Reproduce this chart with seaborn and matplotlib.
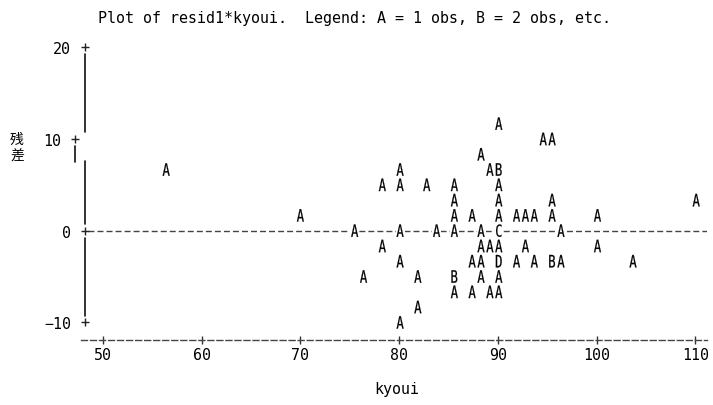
import numpy as np
import pandas as pd
import matplotlib
matplotlib.use("Agg")
import matplotlib.pyplot as plt
import seaborn as sns
from matplotlib.textpath import TextPath
from matplotlib.font_manager import FontProperties
from matplotlib.path import Path
from matplotlib.transforms import ScaledTranslation

# ---------------- data ----------------
kyoui = [
    90.1,
    94.6, 95.5,
    88.3,
    56.4, 80.1, 89.2, 90.1,
    78.3, 80.1, 82.8, 85.6, 90.1,
    85.6, 90.1, 95.5, 110.1,
    70.0, 85.6, 87.4, 90.1, 91.9, 92.8, 93.7, 95.5, 100.1,
    75.5, 80.1, 83.8, 85.6, 88.3, 90.1, 96.4,
    78.3, 88.3, 89.2, 90.1, 92.8, 100.1,
    80.1, 87.4, 88.3, 90.1, 91.9, 93.7, 95.5, 96.4, 103.7,
    76.4, 81.9, 85.6, 88.3, 90.1,
    85.6, 87.4, 89.2, 90.1,
    81.9,
    80.1,
]
resid1 = (
    [11.67]
    + [10.0] * 2
    + [8.33]
    + [6.67] * 4
    + [5.0] * 5
    + [3.33] * 4
    + [1.67] * 9
    + [0.0] * 7
    + [-1.67] * 6
    + [-3.33] * 9
    + [-5.0] * 5
    + [-6.67] * 4
    + [-8.33]
    + [-10.0]
)
nobs = (
    [1]
    + [1, 1]
    + [1]
    + [1, 1, 1, 2]
    + [1, 1, 1, 1, 1]
    + [1, 1, 1, 1]
    + [1] * 9
    + [1, 1, 1, 1, 1, 3, 1]
    + [1] * 6
    + [1, 1, 1, 4, 1, 1, 2, 1, 1]
    + [1, 1, 2, 1, 1]
    + [1, 1, 1, 1]
    + [1]
    + [1]
)
xticks = [50, 60, 70, 80, 90, 100, 110]
yticks = [-10, 0, 10, 20]
title = "Plot of resid1*kyoui.  Legend: A = 1 obs, B = 2 obs, etc."
xlabel = "kyoui"
ylabel = "残\n差"

df = pd.DataFrame({"kyoui": kyoui, "resid1": resid1, "nobs": nobs})
df["letter"] = [chr(64 + n) for n in df["nobs"]]

# ---------------- style ----------------
sns.set_style("white")
plt.rcParams["font.family"] = ["DejaVu Sans Mono"]
plt.rcParams["lines.scale_dashes"] = False
FS = 10.8
DASH = (0, (4.3, 2.2))
GREY = "#444444"

W, H = 713, 406
fig = plt.figure(figsize=(W / 100, H / 100), dpi=100)
ax_l, ax_r, ax_t, ax_b = 81, 707, 40, 340.7
ax = fig.add_axes([ax_l / W, 1 - ax_b / H, (ax_r - ax_l) / W, (ax_b - ax_t) / H])

XLIM = (47.771, 111.195)
YLIM = (-11.89, 20.9)
ax.set_xlim(*XLIM)
ax.set_ylim(*YLIM)

# glyph markers
fp = FontProperties(family="DejaVu Sans Mono")


def glyph(ch, xscale=0.72):
    tp = TextPath((0, 0), ch, size=1, prop=fp)
    v = tp.vertices.copy()
    ext = tp.get_extents()
    v[:, 0] = (v[:, 0] - (ext.x0 + ext.x1) / 2) * xscale
    v[:, 1] = v[:, 1] - (ext.y0 + ext.y1) / 2
    return Path(v, tp.codes)


letters = sorted(df["letter"].unique())
markers = {L: glyph(L) for L in letters}
box = Path([(-0.32, -0.5), (0.32, -0.5), (0.32, 0.5), (-0.32, 0.5), (-0.32, -0.5)],
           [Path.MOVETO, Path.LINETO, Path.LINETO, Path.LINETO, Path.CLOSEPOLY])

# zero reference line
ax.plot([48.5, XLIM[1]], [0, 0], color=GREY, lw=1.0, linestyle=DASH, zorder=2)

# white cells behind letters (blank the reference line like a printer would)
sns.scatterplot(data=df, x="kyoui", y="resid1", marker=box, color="white",
                s=(14 * 0.72) ** 2, linewidth=0, edgecolor="none",
                legend=False, ax=ax, zorder=2.5)
# letters
sns.scatterplot(data=df, x="kyoui", y="resid1", style="letter", markers=markers,
                color="black", s=(12.5 * 0.72) ** 2, linewidth=0.15, edgecolor="black",
                legend=False, ax=ax, zorder=3)

# vertical axis (drawn like the printer's '|' column)
xa = 48.176
xa10 = 47.12
vk = dict(color="#111111", lw=1.2, clip_on=False, zorder=2)
ax.plot([xa, xa], [19.27, 10.80], **vk)
ax.plot([xa, xa], [7.57, 0.73], **vk)
ax.plot([xa, xa], [-0.80, -9.27], **vk)
ax.plot([xa10, xa10], [9.27, 7.52], **vk)
ax.plot([xa, xa, xa], [20, 0, -10], ls="none", marker="+", ms=5.2, mew=1.0,
        color="#222222", clip_on=False)
ax.plot([xa10], [10], ls="none", marker="+", ms=5.2, mew=1.0,
        color="#222222", clip_on=False)

# spines / ticks
for s in ["left", "right", "top"]:
    ax.spines[s].set_visible(False)
ax.spines["bottom"].set_visible(True)
ax.spines["bottom"].set_linestyle(DASH)
ax.spines["bottom"].set_linewidth(1.0)
ax.spines["bottom"].set_color(GREY)

ax.set_xticks(xticks)
ax.set_xticklabels([str(t) for t in xticks])
ax.tick_params(axis="x", direction="inout", length=5.2, width=1.0, color="#333333",
               pad=2.3, labelsize=FS, labelcolor="black", bottom=True)
ax.set_yticks(yticks)
ax.set_yticklabels([str(t).replace("-", "\u2212") for t in yticks])
ax.tick_params(axis="y", length=0, pad=7.2, labelsize=FS, labelcolor="black", left=True)
for lab in ax.get_yticklabels():
    if lab.get_text() == "10":
        lab.set_transform(lab.get_transform() + ScaledTranslation(-0.10, 0, fig.dpi_scale_trans))

ax.set_xlabel(xlabel, fontsize=FS, color="black")
ax.xaxis.set_label_coords((397 - ax_l) / (ax_r - ax_l), -(382 - ax_b) / (ax_b - ax_t))
ax.set_ylabel("")

fig.text(98 / W, 1 - 23 / H, title, ha="left", va="baseline", fontsize=FS, color="black")
fig.text(17 / W, 1 - 148.5 / H, ylabel, ha="center", va="center", fontsize=10,
         family=["Noto Sans CJK JP", "DejaVu Sans"], linespacing=1.2, color="black")

fig.savefig("out.png", dpi=100)
